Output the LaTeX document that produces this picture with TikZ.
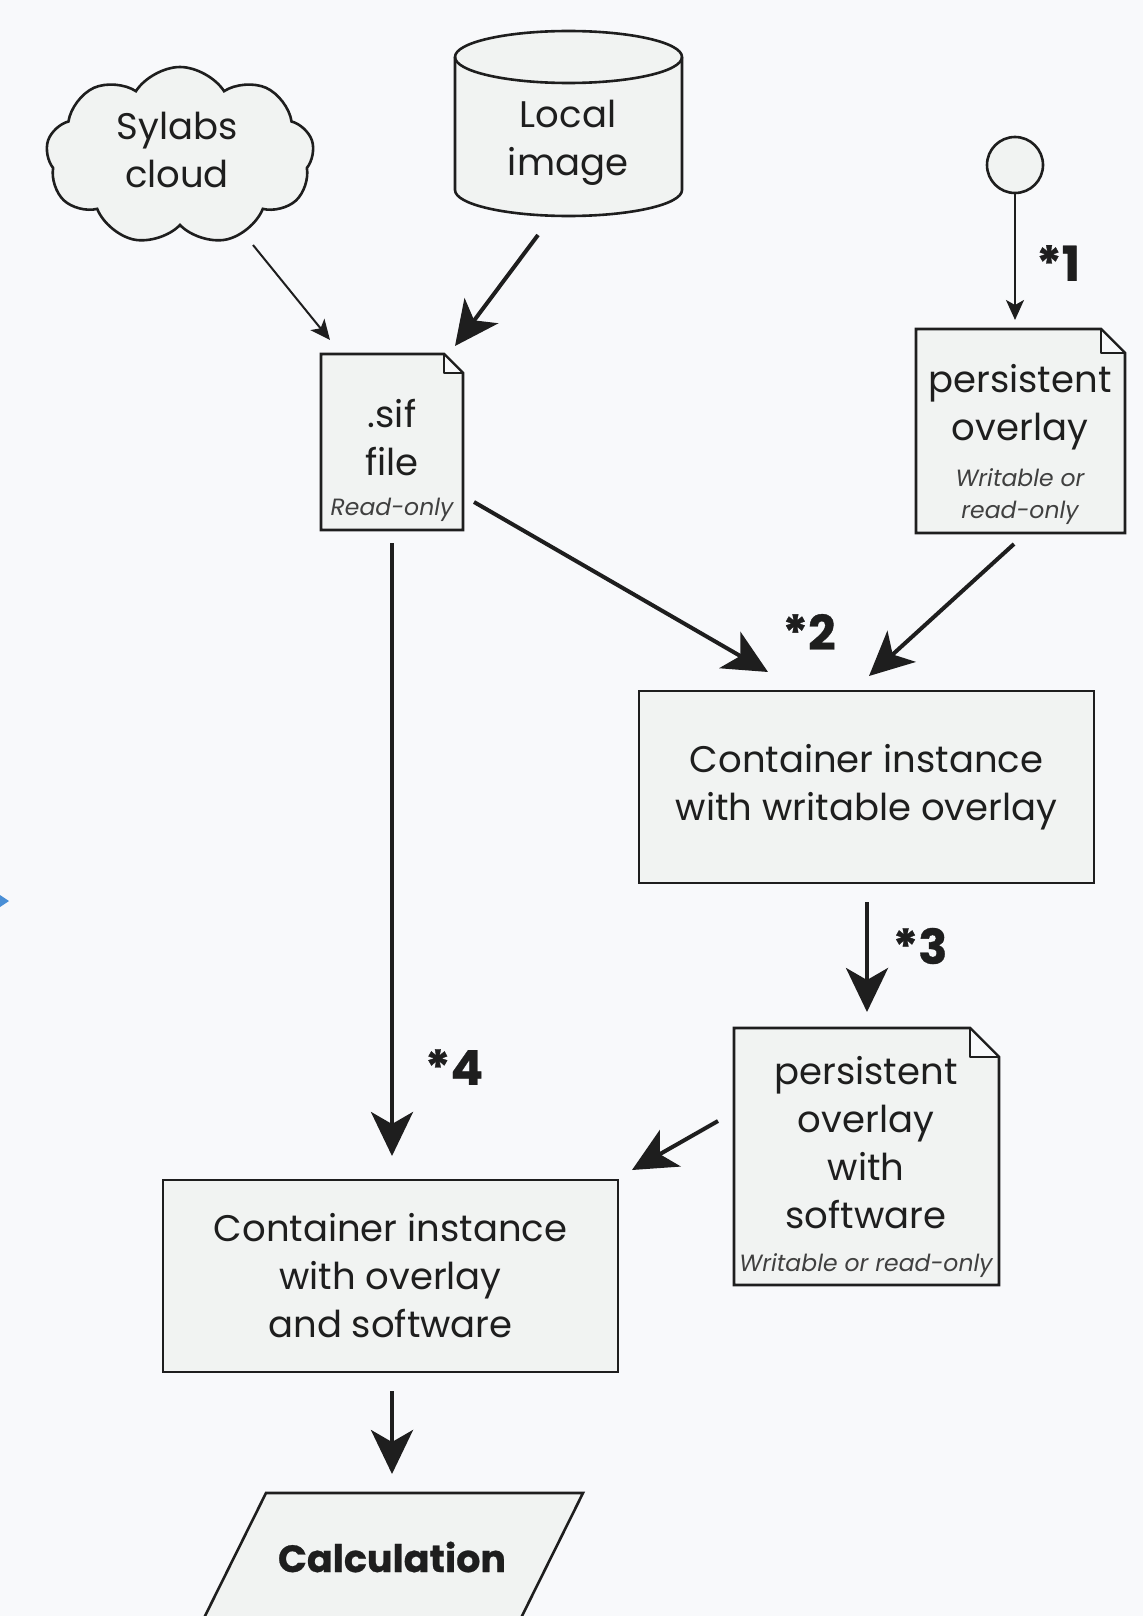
\documentclass[tikz,border=0pt]{standalone}
\usepackage{fontspec}
\setmainfont{Poppins}
\newfontfamily\heavyfont[FakeBold=0.7]{Poppins}
\usetikzlibrary{shapes.symbols,shapes.geometric,arrows.meta}
\definecolor{bg}{HTML}{F8F9FB}
\definecolor{boxfill}{HTML}{F1F3F2}
\definecolor{ink}{HTML}{1E1E1E}
\definecolor{blueish}{HTML}{4A8FD6}
\newcommand\docpage[6]{%
  \draw[shapeline] (#2,#3) -- (#4-#6,#3) -- (#4,#3+#6) -- (#4,#5) -- (#2,#5) -- cycle;
  \draw[draw=ink, line width=1.8pt, fill=bg, line join=round] (#4-#6,#3) -- (#4-#6,#3+#6) -- (#4,#3+#6) -- cycle;
  \node[inner sep=0pt, minimum width=#4-#2, minimum height=#5-#3] (#1) at ({(#2+#4)/2},{(#3+#5)/2}) {};
}
\begin{document}
\begin{tikzpicture}[x=1pt,y=-1pt,
  shapeline/.style={draw=ink, line width=2.6pt, fill=boxfill},
  bigarrow/.style={draw=ink, line width=4pt, -{Stealth[length=44pt,width=42pt,inset=12pt]}},
  smallarrow/.style={draw=ink, line width=2pt, -{Stealth[length=20pt,width=18pt,inset=5pt]}},
  maintext/.style={font=\fontsize{37}{48}\selectfont, text=ink, align=center, inner sep=0pt},
  notetext/.style={font=\fontsize{23.5}{32}\selectfont\itshape, text=ink!85, align=center, inner sep=0pt},
  steplabel/.style={font=\fontsize{48}{50}\selectfont\heavyfont\bfseries, text=ink, inner sep=0pt},
]
\fill[bg] (0,0) rectangle (1143,1616);
\useasboundingbox (0,0) rectangle (1143,1616);
\clip (0,0) rectangle (1143,1616);

% cloud
\node[cloud, cloud puffs=9, cloud puff arc=115, aspect=1.5, shapeline,
      minimum width=268pt, minimum height=178pt, inner sep=0pt] (cloud) at (180,156) {};
\node[maintext] (cloudtxt) at (177,150) {Sylabs\\cloud};

% cylinder
\draw[shapeline] (455,57) -- (455,190)
   arc[start angle=180, end angle=360, x radius=113.5pt, y radius=26pt]
   -- (682,57)
   arc[start angle=0, end angle=180, x radius=113.5pt, y radius=26pt] -- cycle;
\draw[draw=ink, line width=2.6pt] (455,57) arc[start angle=180, end angle=360, x radius=113.5pt, y radius=26pt];
\node[maintext] (img) at (568,143) {Local\\image};

% start circle
\node[circle, shapeline, minimum size=56pt, inner sep=0pt] (start) at (1015,165) {};

% documents
\docpage{sif}{321}{354}{463}{530}{19}
\node[maintext] (siftxt) at (392,438) {.sif\\file};
\node[notetext] (sifnote) at (392,510) {Read-only};

\docpage{po}{916}{329}{1125}{533}{24}
\node[maintext] (potxt) at (1020,407) {persistent\\overlay};
\node[notetext] (ponote) at (1020,497) {Writable or\\read-only};

\docpage{pos}{734}{1028}{999}{1285}{29}
\node[maintext] (postxt) at (866,1143) {persistent\\overlay\\with\\software};
\node[notetext] (posnote) at (866,1266) {Writable or read-only};

% boxes
\node[shapeline, minimum width=455pt, minimum height=192pt, maintext] (c1) at (866.5,787) {Container instance\\with writable overlay};
\node[shapeline, minimum width=455pt, minimum height=192pt, maintext] (c2) at (390.5,1276) {Container instance\\with overlay\\and software};

% calculation
\fill[boxfill] (205,1616) -- (266,1493) -- (583,1493) -- (522,1616) -- cycle;
\draw[draw=ink, line width=2.6pt] (203,1620) -- (266,1493) -- (583,1493) -- (520,1620);
\node[font=\fontsize{38}{40}\selectfont\heavyfont\bfseries, text=ink, inner sep=0pt] (calc) at (392,1557) {Calculation};

% arrows
\draw[smallarrow] (253,245) -- (330,340);
\draw[smallarrow] (start.south) -- (1015,320);
\draw[bigarrow] (538,235) -- (455,346);
\draw[bigarrow] (474,502) -- (768,672);
\draw[bigarrow] (1014,544) -- (869,676);
\draw[bigarrow] (867,902) -- (867,1012);
\draw[bigarrow] (718,1121) -- (632,1170);
\draw[bigarrow] (392,543) -- (392,1156);
\draw[bigarrow] (392,1391) -- (392,1474);

% labels
\node[steplabel] (l1) at (1058,263) {*1};
\node[steplabel] (l2) at (809,632) {*2};
\node[steplabel] (l3) at (920,946) {*3};
\node[steplabel] (l4) at (454,1067) {*4};

% stray tip at left edge
\fill[blueish] (0,895) -- (9,901) -- (0,907) -- cycle;
\end{tikzpicture}
\end{document}
